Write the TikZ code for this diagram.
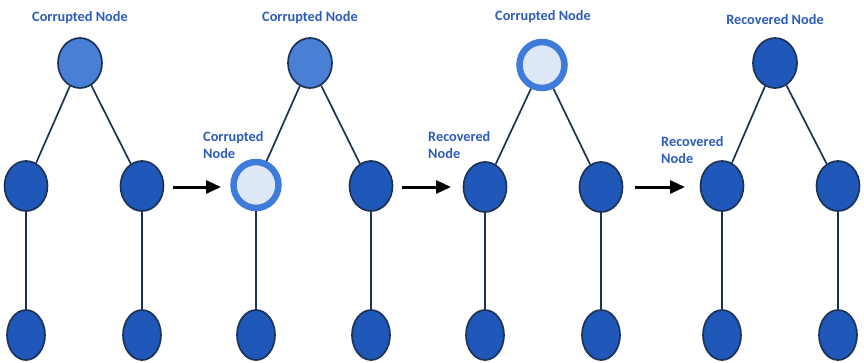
\documentclass[tikz,border=0pt]{standalone}
\usepackage{fontspec}
\setmainfont{Carlito}
\usetikzlibrary{shapes.geometric,arrows.meta}
\definecolor{nodeblue}{HTML}{2058B9}
\definecolor{lightblue}{HTML}{4A7FD6}
\definecolor{edgecol}{HTML}{1C3357}
\definecolor{ringblue}{HTML}{3F7BDA}
\definecolor{ringfill}{HTML}{DEE7F6}
\definecolor{labelblue}{HTML}{2E5DB9}
\begin{document}
\begin{tikzpicture}[x=1pt,y=-1pt,
  nd/.style={ellipse,draw=edgecol,line width=1.7pt,fill=nodeblue,minimum width=43pt,minimum height=50pt,inner sep=0pt},
  bt/.style={nd,minimum width=38pt},
  topnd/.style={nd,minimum width=44pt},
  lightnd/.style={topnd,fill=lightblue},
  ring/.style={ellipse,draw=ringblue,line width=6.5pt,fill=ringfill,minimum width=45pt,minimum height=46pt,inner sep=0pt},
  edge/.style={draw=edgecol,line width=1.7pt},
  lbl/.style={font=\fontsize{14.3}{17}\selectfont\bfseries,text=labelblue,inner sep=0pt},
  lbl2/.style={lbl,align=left,anchor=north west},
  step arrow/.style={-{Triangle[length=15pt,width=13pt]},line width=3pt,black}]
\fill[white] (0,0) rectangle (864,362);
\useasboundingbox (0,0) rectangle (864,362);
% panel 1
\node[lightnd] (t1) at (80,63) {};
\node[nd] (l1) at (26,186) {};
\node[nd] (r1) at (142,186) {};
\node[bt] (lb1) at (26,335) {};
\node[bt] (rb1) at (142,335) {};
\node[lbl] (c1) at (80,18) {Corrupted Node};
\draw[edge] (t1) -- (l1);
\draw[edge] (t1) -- (r1);
\draw[edge] (l1) -- (lb1);
\draw[edge] (r1) -- (rb1);
% panel 2
\node[lightnd] (t2) at (310,63) {};
\node[ring] (l2) at (256,185) {};
\node[nd] (r2) at (371,186) {};
\node[bt] (lb2) at (256,335) {};
\node[bt] (rb2) at (371,335) {};
\node[lbl] (c2) at (310,18) {Corrupted Node};
\node[lbl2] (c2b) at (203,131) {Corrupted\\Node};
\draw[edge] (t2) -- (l2);
\draw[edge] (t2) -- (r2);
\draw[edge] (l2) -- (lb2);
\draw[edge] (r2) -- (rb2);
% panel 3
\node[ring] (t3) at (542,65) {};
\node[nd] (l3) at (485,187) {};
\node[nd] (r3) at (601,187) {};
\node[bt] (lb3) at (485,335) {};
\node[bt] (rb3) at (601,335) {};
\node[lbl] (c3) at (543,17) {Corrupted Node};
\node[lbl2] (c3b) at (428,131) {Recovered\\Node};
\draw[edge] (t3) -- (l3);
\draw[edge] (t3) -- (r3);
\draw[edge] (l3) -- (lb3);
\draw[edge] (r3) -- (rb3);
% panel 4
\node[topnd] (t4) at (775,63) {};
\node[nd] (l4) at (722,186) {};
\node[nd] (r4) at (838,186) {};
\node[bt] (lb4) at (722,335) {};
\node[bt] (rb4) at (838,335) {};
\node[lbl] (c4) at (775,20) {Recovered Node};
\node[lbl2] (c4b) at (661,136) {Recovered\\Node};
\draw[edge] (t4) -- (l4);
\draw[edge] (t4) -- (r4);
\draw[edge] (l4) -- (lb4);
\draw[edge] (r4) -- (rb4);
% arrows
\coordinate (a1s) at (173,187); \coordinate (a1e) at (221,187);
\coordinate (a2s) at (402,187); \coordinate (a2e) at (451,187);
\coordinate (a3s) at (635,187); \coordinate (a3e) at (685,187);
\draw[step arrow] (a1s) -- (a1e);
\draw[step arrow] (a2s) -- (a2e);
\draw[step arrow] (a3s) -- (a3e);
\end{tikzpicture}
\end{document}
